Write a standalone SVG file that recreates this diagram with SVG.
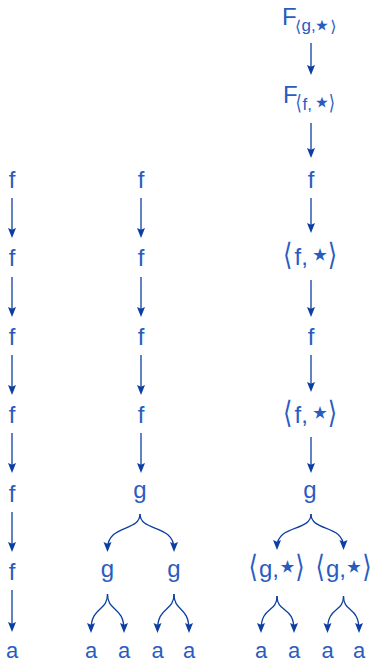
<svg xmlns="http://www.w3.org/2000/svg" width="374" height="663" viewBox="0 0 374 663">
<defs>
<style>
text{font-family:"Liberation Sans","DejaVu Sans",sans-serif;font-size:24px;fill:#2a5cbf}
.m{text-anchor:middle}
.e{text-anchor:end}
.a{font-size:22px}
.s{font-size:17px}
.b{font-family:"DejaVu Sans",sans-serif;font-size:24px}
.bs{font-family:"DejaVu Sans",sans-serif;font-size:16px}
.k{font-family:"DejaVu Sans",sans-serif;font-size:35px;text-anchor:middle}
.ks{font-family:"DejaVu Sans",sans-serif;font-size:30px;text-anchor:middle}
.c{fill:none;stroke:#0d3fa3;stroke-width:1.3;marker-end:url(#ah)}
</style>
<marker id="ah" markerUnits="userSpaceOnUse" viewBox="-11 -5 12 10" refX="-3" refY="0" markerWidth="12" markerHeight="10" orient="auto">
<path d="M0,0 L-10,-4 L-8.3,0 L-10,4 Z" fill="#0d3fa3"/>
</marker>
</defs>
<rect width="374" height="663" fill="#ffffff"/>
<g id="connectors">
<path class="c" d="M12,198 V235"/>
<path class="c" d="M12,277 V314"/>
<path class="c" d="M12,355 V392"/>
<path class="c" d="M12,433 V470"/>
<path class="c" d="M12,512 V549"/>
<path class="c" d="M12,590 V629"/>
<path class="c" d="M141,198 V235"/>
<path class="c" d="M141,277 V314"/>
<path class="c" d="M141,355 V392"/>
<path class="c" d="M141,433 V470"/>
<path class="c" d="M140,514 C140,532 107.5,524 107.5,549"/>
<path class="c" d="M140,514 C140,532 174,524 174,549"/>
<path class="c" d="M107.5,594 C107.5,612 91,606 91,630"/>
<path class="c" d="M107.5,594 C107.5,612 124,606 124,630"/>
<path class="c" d="M174,594 C174,612 157.5,606 157.5,630"/>
<path class="c" d="M174,594 C174,612 189,606 189,630"/>
<path class="c" d="M311,43 V72"/>
<path class="c" d="M311,123 V155"/>
<path class="c" d="M311,198 V230"/>
<path class="c" d="M311,280 V314"/>
<path class="c" d="M311,355 V389"/>
<path class="c" d="M311,437 V470"/>
<path class="c" d="M311,514 C311,532 277,524 277,547"/>
<path class="c" d="M311,514 C311,532 343.5,524 343.5,547"/>
<path class="c" d="M277,596 C277,613 261,606 261,630"/>
<path class="c" d="M277,596 C277,613 294,606 294,630"/>
<path class="c" d="M343.5,596 C343.5,613 327.5,606 327.5,630"/>
<path class="c" d="M343.5,596 C343.5,613 359,606 359,630"/>
</g>
<g id="c1-n1"><text class="m" x="12" y="188">f</text></g>
<g id="c1-n2"><text class="m" x="12" y="266">f</text></g>
<g id="c1-n3"><text class="m" x="12" y="345">f</text></g>
<g id="c1-n4"><text class="m" x="12" y="423">f</text></g>
<g id="c1-n5"><text class="m" x="12" y="502">f</text></g>
<g id="c1-n6"><text class="m" x="12" y="580">f</text></g>
<g id="c1-n7"><text class="m a" x="12" y="658">a</text></g>
<g id="c2-n1"><text class="m" x="141" y="188">f</text></g>
<g id="c2-n2"><text class="m" x="141" y="266">f</text></g>
<g id="c2-n3"><text class="m" x="141" y="345">f</text></g>
<g id="c2-n4"><text class="m" x="141" y="423">f</text></g>
<g id="c2-n5"><text class="m" x="140" y="498">g</text></g>
<g id="c2-n6"><text class="m" x="107.5" y="577">g</text></g>
<g id="c2-n7"><text class="m" x="174" y="577">g</text></g>
<g id="c2-n8"><text class="m a" x="91" y="658">a</text></g>
<g id="c2-n9"><text class="m a" x="124" y="658">a</text></g>
<g id="c2-n10"><text class="m a" x="157.5" y="658">a</text></g>
<g id="c2-n11"><text class="m a" x="189" y="658">a</text></g>
<g id="c3-n1">
<text x="282" y="25">F</text>
<text class="bs" transform="translate(295,32)">⟨</text>
<text class="s" x="301.5" y="31">g,</text>
<text class="ks" x="322" y="35">⋆</text>
<text class="bs e" transform="translate(336.5,32)">⟩</text>
</g>
<g id="c3-n2">
<text x="283" y="103">F</text>
<text class="bs" transform="translate(295.5,110) scale(1,1.3)">⟨</text>
<text class="s" x="302.5" y="110">f,</text>
<text class="ks" x="322" y="112">⋆</text>
<text class="bs e" transform="translate(335,110) scale(1,1.3)">⟩</text>
</g>
<g id="c3-n3"><text class="m" x="311" y="188">f</text></g>
<g id="c3-n4">
<text class="b" transform="translate(283,265) scale(1,1.28)">⟨</text>
<text x="294.5" y="265">f,</text>
<text class="k" x="320" y="266">⋆</text>
<text class="b e" transform="translate(337,265) scale(1,1.28)">⟩</text>
</g>
<g id="c3-n5"><text class="m" x="311" y="345">f</text></g>
<g id="c3-n6">
<text class="b" transform="translate(283,423) scale(1,1.28)">⟨</text>
<text x="294.5" y="423">f,</text>
<text class="k" x="320" y="424">⋆</text>
<text class="b e" transform="translate(337,423) scale(1,1.28)">⟩</text>
</g>
<g id="c3-n7"><text class="m" x="310" y="498">g</text></g>
<g id="c3-n8">
<text class="b" transform="translate(248.5,577) scale(1,1.28)">⟨</text>
<text x="259" y="577">g,</text>
<text class="k" x="287.5" y="578">⋆</text>
<text class="b e" transform="translate(304.5,577) scale(1,1.28)">⟩</text>
</g>
<g id="c3-n9">
<text class="b" transform="translate(315.5,577) scale(1,1.28)">⟨</text>
<text x="326" y="577">g,</text>
<text class="k" x="354" y="578">⋆</text>
<text class="b e" transform="translate(371.5,577) scale(1,1.28)">⟩</text>
</g>
<g id="c3-n10"><text class="m a" x="261" y="658">a</text></g>
<g id="c3-n11"><text class="m a" x="294" y="658">a</text></g>
<g id="c3-n12"><text class="m a" x="327.5" y="658">a</text></g>
<g id="c3-n13"><text class="m a" x="359" y="658">a</text></g>
</svg>
